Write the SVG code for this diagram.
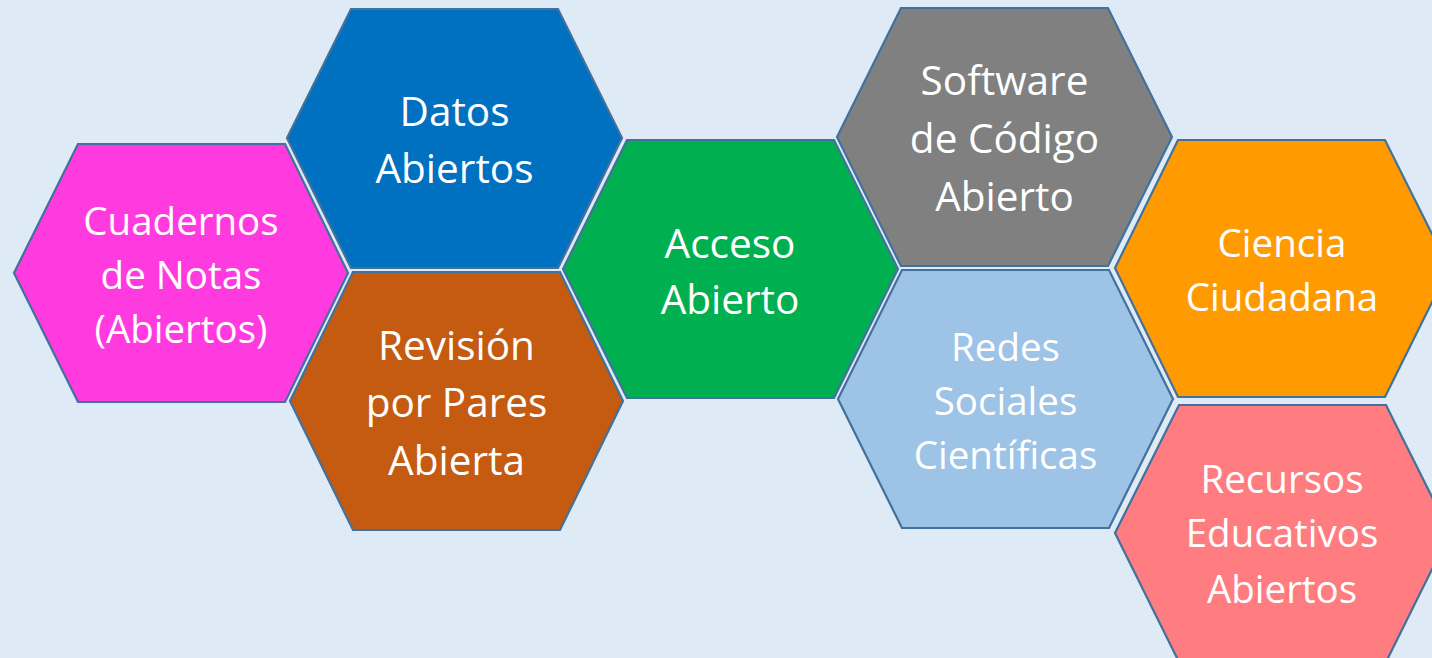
<svg xmlns="http://www.w3.org/2000/svg" width="1432" height="658" viewBox="0 0 1432 658">
<style>
.hex{stroke:#41719C;stroke-width:2.2;stroke-linejoin:miter}
.t{font-family:"Open Sans","Liberation Sans",sans-serif;fill:#FFFFFF;text-anchor:middle}
.a{font-size:38.5px}
.b{font-size:40.5px}
</style>
<rect x="0" y="0" width="1432" height="658" fill="#DEEAF6"/>
<g id="connectors"></g>
<g id="cuadernos">
<polygon class="hex" fill="#FF3BDF" points="14,273 78,144 285,144 348,273 285,402 78,402"/>
<text class="t a" x="181" y="235">Cuadernos</text>
<text class="t a" x="181" y="289">de Notas</text>
<text class="t a" x="181" y="343">(Abiertos)</text>
</g>
<g id="datos">
<polygon class="hex" fill="#0070C0" points="287,138 351,9 558,9 622,138 558,268 351,268"/>
<text class="t b" x="454.5" y="126">Datos</text>
<text class="t b" x="454.5" y="183">Abiertos</text>
</g>
<g id="revision">
<polygon class="hex" fill="#C55A11" points="290,401 353,272 560,272 623,401 560,530 353,530"/>
<text class="t b" x="456.5" y="360">Revisión</text>
<text class="t b" x="456.5" y="417">por Pares</text>
<text class="t b" x="456.5" y="475">Abierta</text>
</g>
<g id="acceso">
<polygon class="hex" fill="#00B050" points="563,269 627,140 834,140 898,269 834,398 627,398"/>
<text class="t b" x="730" y="258">Acceso</text>
<text class="t b" x="730" y="314">Abierto</text>
</g>
<g id="software">
<polygon class="hex" fill="#808080" points="837,137 901,8 1108,8 1172,137 1108,266 901,266"/>
<text class="t b" x="1004.5" y="95">Software</text>
<text class="t b" x="1004.5" y="153">de Código</text>
<text class="t b" x="1004.5" y="211">Abierto</text>
</g>
<g id="redes">
<polygon class="hex" fill="#9DC3E6" points="838,399 902,270 1109,270 1173,399 1109,528 902,528"/>
<text class="t a" x="1005.5" y="361">Redes</text>
<text class="t a" x="1005.5" y="415">Sociales</text>
<text class="t a" x="1005.5" y="469">Científicas</text>
</g>
<g id="ciencia">
<polygon class="hex" fill="#FF9B00" points="1115,268 1178,140 1385,140 1449,268 1385,397 1178,397"/>
<text class="t a" x="1282" y="257">Ciencia</text>
<text class="t a" x="1282" y="311">Ciudadana</text>
</g>
<g id="recursos">
<polygon class="hex" fill="#FF7C80" points="1115,533 1179,405 1386,405 1450,533 1386,662 1179,662"/>
<text class="t a" x="1282" y="493">Recursos</text>
<text class="t a" x="1282" y="547">Educativos</text>
<text class="t a" x="1282" y="603">Abiertos</text>
</g>
</svg>
